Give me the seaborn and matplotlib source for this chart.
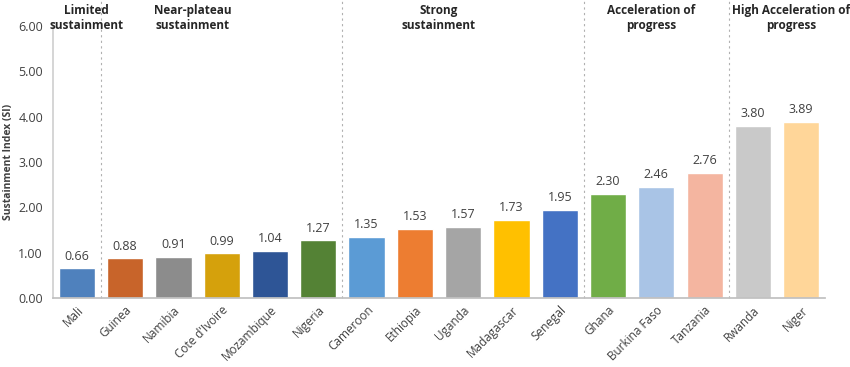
import numpy as np
import pandas as pd
import matplotlib.pyplot as plt
import seaborn as sns

countries = ["Mali", "Guinea", "Namibia", "Cote d'Ivoire", "Mozambique", "Nigeria",
             "Cameroon", "Ethiopia", "Uganda", "Madagascar", "Senegal", "Ghana",
             "Burkina Faso", "Tanzania", "Rwanda", "Niger"]
si_values = [0.66, 0.88, 0.91, 0.99, 1.04, 1.27, 1.35, 1.53, 1.57, 1.73, 1.95,
             2.30, 2.46, 2.76, 3.80, 3.89]
bar_colors = ["#4f81bd", "#c8642a", "#8c8c8c", "#d5a10c", "#2e5596", "#548235",
              "#5b9bd5", "#ed7d31", "#a5a5a5", "#ffc000", "#4472c4", "#70ad47",
              "#a9c4e6", "#f4b5a0", "#c9c9c9", "#ffd699"]

group_labels = ["Limited\nsustainment", "Near-plateau\nsustainment", "Strong\nsustainment",
                "Acceleration of\nprogress", "High Acceleration of\nprogress"]
group_label_x = [0.2, 2.4, 7.5, 11.9, 14.8]   # in bar index units
group_breaks = [0.5, 5.5, 10.5, 13.5]          # dashed separators between bars

df = pd.DataFrame({"country": countries, "si": si_values})

sns.set_theme(style="white")
plt.rcParams["font.family"] = ["Open Sans", "DejaVu Sans"]
txt = "#404040"

fig = plt.figure(figsize=(8.5, 3.67), dpi=100)
ax = fig.add_axes([0.062, 0.188, 0.909, 0.741])

sns.barplot(data=df, x="country", y="si", hue="country", palette=bar_colors,
            legend=False, width=0.75, saturation=1, ax=ax)

for i, v in enumerate(si_values):
    ax.text(i, v + 0.12, f"{v:.2f}", ha="center", va="bottom", fontsize=9, color=txt)

for b in group_breaks:
    ax.axvline(b, ymin=0, ymax=1.1, color="#b0b0b0",
               lw=0.8, ls=(0, (2, 3)), clip_on=False)

for lab, gx in zip(group_labels, group_label_x):
    ax.text(gx, 6.18, lab, ha="center", va="center", fontsize=8.5,
            fontweight="bold", color="#262626", linespacing=1.25, clip_on=False)

ax.set_xlim(-0.5, len(countries) - 0.5)
ax.set_ylim(0, 6)
ax.set_yticks(np.arange(0, 6.01, 1))
ax.set_yticklabels([f"{t:.2f}" for t in np.arange(0, 6.01, 1)], fontsize=9, color=txt)
ax.set_ylabel("Sustainment Index (SI)", fontsize=7.5, fontweight="bold", color=txt,
              labelpad=3)
ax.set_xlabel("")

ax.set_xticks(range(len(countries)))
ax.set_xticklabels(countries, rotation=45, ha="right", rotation_mode="anchor",
                   fontsize=8.5, color=txt)
ax.tick_params(axis="x", length=0, pad=4)
ax.set_xticks(np.arange(-0.5, len(countries), 1), minor=True)
ax.tick_params(axis="x", which="minor", length=4, color="#c0c0c0")
ax.tick_params(axis="y", length=3, color="#c0c0c0", pad=4)

for s in ["top", "right"]:
    ax.spines[s].set_visible(False)
ax.spines["left"].set_color("#d0d0d0")
ax.spines["bottom"].set_color("#c0c0c0")

plt.savefig("out.png", dpi=100)
